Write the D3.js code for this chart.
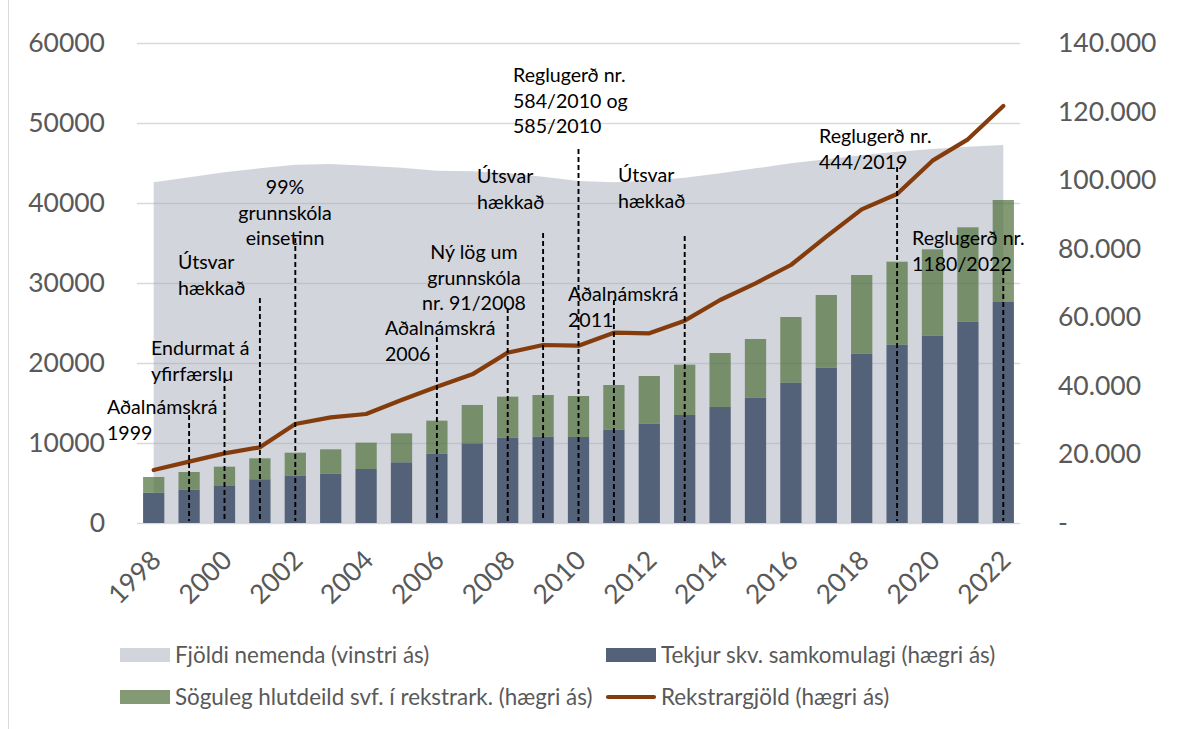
<!DOCTYPE html>
<html>
<head>
<meta charset="utf-8">
<script src="https://cdn.jsdelivr.net/npm/d3@7"></script>
<style>
  body { margin: 0; background: #fff; }
  svg { display: block; font-family: Lato, "Open Sans", sans-serif; }
</style>
</head>
<body>
<svg id="chart" width="1180" height="729"></svg>
<script>
// categories
const years = [1998, 1999, 2000, 2001, 2002, 2003, 2004, 2005, 2006, 2007, 2008, 2009, 2010,
  2011, 2012, 2013, 2014, 2015, 2016, 2017, 2018, 2019, 2020, 2021, 2022];
const yearLabels = [1998, 2000, 2002, 2004, 2006, 2008, 2010, 2012, 2014, 2016, 2018, 2020, 2022];

// Fjöldi nemenda (vinstri ás)
const students = [42590, 43210, 43830, 44330, 44790, 44880, 44670, 44420, 44040, 43960, 43710, 43290, 42750,
  42580, 42790, 43170, 43710, 44330, 44960, 45460, 45960, 46420, 46750, 47040, 47250];
// Tekjur skv. samkomulagi (hægri ás)
const revenue = [8840, 9720, 10790, 12740, 13800, 14380, 15750, 17690, 20220, 23240, 24890, 25180, 25080,
  27220, 28970, 31500, 33830, 36560, 40930, 45310, 49390, 52010, 54640, 58720, 64460];
// Söguleg hlutdeild svf. í rekstrark. (hægri ás)
const share = [4580, 5150, 5630, 6120, 6710, 7110, 7680, 8460, 9630, 11180, 11960, 12150, 11960,
  13030, 13900, 14680, 15750, 17110, 19150, 21190, 22940, 24210, 25180, 27520, 29750];
// Rekstrargjöld (hægri ás)
const costs = [15460, 17890, 20320, 22070, 28880, 30820, 31790, 35880, 39760, 43360, 49700, 51920, 51720,
  55510, 55320, 59010, 65040, 69900, 75250, 83510, 91490, 95960, 105680, 111900, 121630];

const leftTicks = [0, 10000, 20000, 30000, 40000, 50000, 60000];
const rightTicks = [0, 20000, 40000, 60000, 80000, 100000, 120000, 140000];

// annotations: year of the dashed line and the text lines
const notes = [
  { year: 1999, lines: ["Aðalnámskrá", "1999"] },
  { year: 2000, lines: ["Endurmat á", "yfirfærslu"] },
  { year: 2001, lines: ["Útsvar", "hækkað"] },
  { year: 2002, lines: ["99%", "grunnskóla", "einsetinn"] },
  { year: 2006, lines: ["Aðalnámskrá", "2006"] },
  { year: 2008, lines: ["Ný lög um", "grunnskóla", "nr. 91/2008"] },
  { year: 2009, lines: ["Útsvar", "hækkað"] },
  { year: 2010, lines: ["Reglugerð nr.", "584/2010 og", "585/2010"] },
  { year: 2011, lines: ["Aðalnámskrá", "2011"] },
  { year: 2013, lines: ["Útsvar", "hækkað"] },
  { year: 2019, lines: ["Reglugerð nr.", "444/2019"] },
  { year: 2022, lines: ["Reglugerð nr.", "1180/2022"] }
];
// placement of each note (pixels): top of dashed line, text x, first line y, anchor
const noteLayout = [
  { top: 415, tx: 107, ty: 407, anchor: "start" },
  { top: 378, tx: 151, ty: 348, anchor: "start" },
  { top: 298, tx: 178, ty: 262, anchor: "start" },
  { top: 238, tx: 285, ty: 187, anchor: "middle" },
  { top: 337, tx: 385, ty: 328, anchor: "start" },
  { top: 308, tx: 474, ty: 252, anchor: "middle" },
  { top: 233, tx: 477, ty: 176, anchor: "start" },
  { top: 149, tx: 513, ty: 75, anchor: "start" },
  { top: 300, tx: 568, ty: 294, anchor: "start" },
  { top: 236, tx: 618, ty: 175, anchor: "start" },
  { top: 167, tx: 819, ty: 136, anchor: "start" },
  { top: 270, tx: 912, ty: 238, anchor: "start" }
];

const svg = d3.select("#chart");
const plot = { left: 136, right: 1021, top: 43, bottom: 523 };

const x = d3.scaleBand().domain(years).range([plot.left, plot.right])
  .paddingInner(0.4).paddingOuter(0.2);
const yL = d3.scaleLinear().domain([0, 60000]).range([plot.bottom, plot.top]);
const yR = d3.scaleLinear().domain([0, 140000]).range([plot.bottom, plot.top]);
const cx = d => x(d) + x.bandwidth() / 2;

const isLocale = d3.formatLocale({ decimal: ",", thousands: ".", grouping: [3], currency: ["", ""] });
const fmtR = d => d === 0 ? "-" : isLocale.format(",")(d);

// frame edge on the left
svg.append("line").attr("x1", 8.5).attr("x2", 8.5).attr("y1", 0).attr("y2", 729)
  .attr("stroke", "#d9d9d9").attr("stroke-width", 1);

// gridlines
svg.append("g").selectAll("line").data(leftTicks).join("line")
  .attr("x1", plot.left + 1).attr("x2", plot.right - 1)
  .attr("y1", d => Math.round(yL(d)) + 0.5).attr("y2", d => Math.round(yL(d)) + 0.5)
  .attr("stroke", "#d9d9d9").attr("stroke-width", 1.3);

// area - students
const area = d3.area()
  .x((d, i) => cx(years[i]))
  .y0(yL(0))
  .y1(d => yL(d));
svg.append("path").datum(students)
  .attr("d", area)
  .attr("fill", "#a5abb8").attr("fill-opacity", 0.5);

// stacked bars
const stackData = years.map((yr, i) => ({ year: yr, revenue: revenue[i], share: share[i] }));
const series = d3.stack().keys(["revenue", "share"])(stackData);
const barColors = { revenue: "#546279", share: "#4f6f3a" };
const barOpacity = { revenue: 1, share: 0.7 };

svg.append("g").selectAll("g").data(series).join("g")
  .attr("fill", d => barColors[d.key])
  .attr("fill-opacity", d => barOpacity[d.key])
  .selectAll("rect").data(d => d).join("rect")
  .attr("x", d => x(d.data.year))
  .attr("width", x.bandwidth())
  .attr("y", d => yR(d[1]))
  .attr("height", d => yR(d[0]) - yR(d[1]));

// line - costs
const line = d3.line()
  .x((d, i) => cx(years[i]))
  .y(d => yR(d));
svg.append("path").datum(costs)
  .attr("d", line)
  .attr("fill", "none")
  .attr("stroke", "#843c0c")
  .attr("stroke-width", 4.2)
  .attr("stroke-linejoin", "round")
  .attr("stroke-linecap", "round");

// left axis
const gL = svg.append("g").attr("transform", "translate(" + (plot.left - 31) + ",0)")
  .call(d3.axisLeft(yL).tickValues(leftTicks).tickSize(0).tickPadding(0).tickFormat(d3.format("d")));
gL.select(".domain").remove();
gL.selectAll("text").attr("font-size", 26.5).attr("fill", "#595959").attr("font-family", "Lato, sans-serif");

// right axis
const gR = svg.append("g").attr("transform", "translate(1058,0)")
  .call(d3.axisRight(yR).tickValues(rightTicks).tickSize(0).tickPadding(0).tickFormat(fmtR));
gR.select(".domain").remove();
gR.selectAll("text").attr("font-size", 26.5).attr("fill", "#595959").attr("font-family", "Lato, sans-serif");

// x axis
const gX = svg.append("g").attr("transform", "translate(0," + plot.bottom + ")")
  .call(d3.axisBottom(x).tickValues(yearLabels).tickSize(0).tickPadding(0));
gX.select(".domain").remove();
gX.selectAll("text")
  .attr("font-size", 26.5).attr("fill", "#595959").attr("font-family", "Lato, sans-serif")
  .attr("text-anchor", "end")
  .attr("dy", 0)
  .attr("transform", "translate(9,39) rotate(-45)");

// annotations
const gN = svg.append("g");
notes.forEach((n, i) => {
  const L = noteLayout[i];
  gN.append("line")
    .attr("x1", cx(n.year)).attr("x2", cx(n.year))
    .attr("y1", L.top).attr("y2", plot.bottom - 2)
    .attr("stroke", "#000").attr("stroke-width", 1.9)
    .attr("stroke-dasharray", "5,3");
  const t = gN.append("text")
    .attr("x", L.tx).attr("y", L.ty)
    .attr("text-anchor", L.anchor)
    .attr("font-size", 19.6).attr("fill", "#000");
  n.lines.forEach((s, k) => {
    t.append("tspan").attr("x", L.tx).attr("y", L.ty + k * 25.8).attr("dy", "0.35em").text(s);
  });
});

// legend
const legend = [
  { label: "Fjöldi nemenda (vinstri ás)", type: "rect", color: "#a5abb8", op: 0.5, x: 120, y: 655 },
  { label: "Tekjur skv. samkomulagi (hægri ás)", type: "rect", color: "#546279", op: 1, x: 606, y: 655 },
  { label: "Söguleg hlutdeild svf. í rekstrark. (hægri ás)", type: "rect", color: "#4f6f3a", op: 0.7, x: 120, y: 697 },
  { label: "Rekstrargjöld (hægri ás)", type: "line", color: "#843c0c", op: 1, x: 606, y: 697 }
];
const gLeg = svg.append("g").selectAll("g").data(legend).join("g")
  .attr("transform", d => "translate(" + d.x + "," + d.y + ")");
gLeg.filter(d => d.type === "rect").append("rect")
  .attr("x", 0).attr("y", -7).attr("width", 50).attr("height", 14)
  .attr("fill", d => d.color).attr("fill-opacity", d => d.op);
gLeg.filter(d => d.type === "line").append("line")
  .attr("x1", 2).attr("x2", 48).attr("y1", 0).attr("y2", 0)
  .attr("stroke", d => d.color).attr("stroke-width", 4.2).attr("stroke-linecap", "round");
gLeg.append("text")
  .attr("x", 55).attr("y", 0).attr("dy", "0.35em")
  .attr("font-size", 22.4).attr("fill", "#595959")
  .text(d => d.label);
</script>
</body>
</html>
